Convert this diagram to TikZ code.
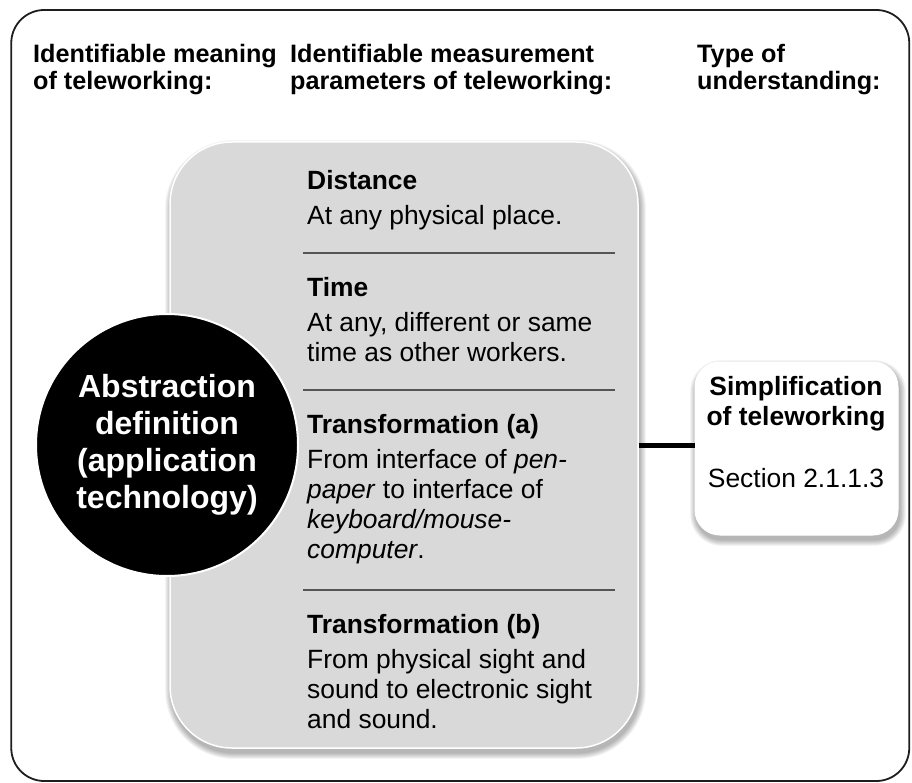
\documentclass[tikz,border=0pt]{standalone}
\usepackage{fontspec}
\setmainfont{Liberation Sans}
\definecolor{boxgray}{RGB}{217,217,217}
\definecolor{sepgray}{RGB}{85,85,85}
\definecolor{framecol}{RGB}{30,30,30}
\newcommand\hdrfont{\fontsize{25.2}{27}\selectfont\bfseries}
\newcommand\bodyfont{\fontsize{26.4}{30}\selectfont}
\newcommand\circfont{\fontsize{32}{37}\selectfont\bfseries}
\newcommand\mylines[1]{\begin{tabular}[t]{@{}l@{}}#1\end{tabular}}
\newcommand\mycentre[1]{\begin{tabular}[t]{@{}c@{}}#1\end{tabular}}
\newcommand\softshadow[5]{%
  \foreach \k in {1,...,8}{%
    \pgfmathsetmacro\rr{#5+\k*0.8}%
    \fill[black,opacity=0.04,rounded corners=\rr pt]
      ({#1-\k*0.8+1.5},{#2-\k*0.8+4.5}) rectangle ({#3+\k*0.8+1.5},{#4+\k*0.8+4.5});
  }}
\begin{document}
\begin{tikzpicture}[x=1pt,y=-1pt,
  txt/.style={inner sep=0pt, anchor=base west},
  ctxt/.style={inner sep=0pt, anchor=base},
  frame/.style={draw=framecol, line width=1.8pt, rounded corners=33pt, minimum width=898pt, minimum height=771pt, inner sep=0pt},
  paramsbox/.style={draw=white, line width=1.5pt, fill=boxgray, rounded corners=62pt, minimum width=468pt, minimum height=606pt, inner sep=0pt},
  simpbox/.style={draw=white, line width=1pt, fill=white, rounded corners=25pt, minimum width=203pt, minimum height=173pt, inner sep=0pt},
  absdisc/.style={circle, fill=black, draw=white, line width=2pt, minimum size=262pt, inner sep=0pt, text=white, font=\circfont, align=center},
  sepline/.style={draw=sepgray, line width=1.5pt},
  link/.style={draw=black, line width=5pt}]
\useasboundingbox (0,0) rectangle (912,783);
\fill[white] (0,0) rectangle (912,783);

\node[frame] (frame) at (460.25,395.5) {};

% headers
\node[txt, font=\hdrfont] (h1) at (33,63) {\mylines{Identifiable meaning\\of teleworking:}};
\node[txt, font=\hdrfont] (h2) at (290,63) {\mylines{Identifiable measurement\\parameters of teleworking:}};
\node[txt, font=\hdrfont] (h3) at (697,63) {\mylines{Type of\\understanding:}};

% parameters box
\softshadow{170}{142}{638}{748}{62}
\node[paramsbox] (params) at (404,445) {};

\draw[sepline] (303,253) -- (615,253);
\draw[sepline] (303,390) -- (615,390);
\draw[sepline] (303,590) -- (615,590);

\node[txt, font=\bodyfont] (p1) at (307,190) {\mylines{\textbf{Distance}\\[5pt]At any physical place.}};
\node[txt, font=\bodyfont] (p2) at (307,297) {\mylines{\textbf{Time}\\[5pt]At any, different or same\\time as other workers.}};
\node[txt, font=\bodyfont] (p3) at (307,433) {\mylines{\textbf{Transformation (a)}\\[5pt]From interface of \textit{pen-}\\\textit{paper} to interface of\\\textit{keyboard/mouse-}\\\textit{computer}.}};
\node[txt, font=\bodyfont] (p4) at (307,633) {\mylines{\textbf{Transformation (b)}\\[5pt]From physical sight and\\sound to electronic sight\\and sound.}};

% abstraction disc
\node[absdisc] (abs) at (167,445) {Abstraction\\definition\\(application\\technology)};

% simplification box
\softshadow{695}{362}{898}{535}{25}
\node[simpbox] (simp) at (796.5,448.5) {};
\node[ctxt, font=\bodyfont] (s1) at (796,395) {\mycentre{\textbf{Simplification}\\\textbf{of teleworking}}};
\node[ctxt, font=\bodyfont] (s2) at (796,487) {Section 2.1.1.3};

\draw[link] (params.east) -- (params.east -| simp.west);
\end{tikzpicture}
\end{document}
